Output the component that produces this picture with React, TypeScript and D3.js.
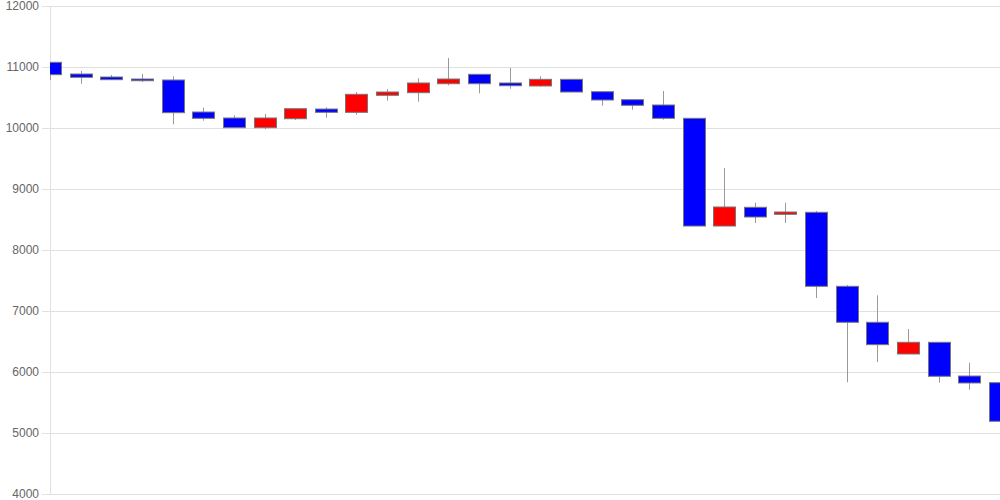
import React from "react";
import * as d3 from "d3";

const opens = [11077, 10885, 10836, 10803, 10787, 10262, 10164, 10005, 10152, 10311, 10257, 10536, 10579, 10726, 10880, 10738, 10689, 10798, 10595, 10464, 10377, 10159, 8393, 8700, 8585, 8618, 7405, 6815, 6295, 6487, 5934, 5825];
const closes = [10874, 10831, 10792, 10775, 10251, 10159, 10005, 10164, 10316, 10257, 10552, 10590, 10738, 10803, 10726, 10693, 10798, 10590, 10459, 10372, 10159, 8393, 8705, 8541, 8623, 7405, 6815, 6448, 6487, 5930, 5820, 5192];
const highs = [11077, 10934, 10869, 10885, 10848, 10333, 10208, 10230, 10316, 10339, 10590, 10639, 10815, 11148, 10880, 10984, 10848, 10800, 10595, 10464, 10607, 10159, 9344, 8775, 8775, 8639, 7426, 7257, 6705, 6487, 6152, 5825];
const lows = [10787, 10726, 10790, 10754, 10061, 10120, 10005, 9979, 10131, 10169, 10218, 10448, 10431, 10700, 10569, 10644, 10677, 10590, 10366, 10300, 10136, 8393, 8393, 8443, 8443, 7213, 5831, 6164, 6295, 5825, 5710, 4825];
const yTicks = [4000, 5000, 6000, 7000, 8000, 9000, 10000, 11000, 12000];

const W = 1000;
const H = 500;
const left = 50;
const right = 1000;
const top = 6;
const bottom = 494;

export default function App() {
  const x = d3.scaleLinear().domain([0, opens.length - 1]).range([left, right]);
  const y = d3.scaleLinear().domain([4000, 12000]).range([bottom, top]);
  const bw = 22;
  return (
    <svg width={W} height={H} style={{ position: "absolute", left: 0, top: 0, fontFamily: "Arial, 'Liberation Sans', sans-serif" }}>
      <defs>
        <clipPath id="plot">
          <rect x={left} y={top - 1} width={right - left} height={bottom - top + 2} />
        </clipPath>
      </defs>
      {yTicks.map((t) => (
        <g key={t}>
          <line x1={left - 8} x2={right} y1={y(t)} y2={y(t)} stroke="#e0e0e0" strokeWidth={1} shapeRendering="crispEdges" />
          <text x={left - 11} y={y(t)} dy="0.35em" textAnchor="end" fontSize={12} fill="#666">
            {t}
          </text>
        </g>
      ))}
      <line x1={left} x2={left} y1={top} y2={bottom} stroke="#e0e0e0" strokeWidth={1} shapeRendering="crispEdges" />
      <g clipPath="url(#plot)">
        {opens.map((o, i) => {
          const c = closes[i];
          const cx = Math.round(x(i)) + 0.5;
          const rising = c > o;
          const yt = y(Math.max(o, c));
          const yb = y(Math.min(o, c));
          return (
            <g key={i}>
              <line x1={cx} x2={cx} y1={y(highs[i])} y2={y(lows[i])} stroke="#999" strokeWidth={1} />
              <rect
                x={cx - bw / 2}
                y={yt}
                width={bw}
                height={Math.max(1, yb - yt)}
                fill={rising ? "#ff0000" : "#0000ff"}
                stroke="#777"
                strokeWidth={1}
              />
            </g>
          );
        })}
      </g>
    </svg>
  );
}
